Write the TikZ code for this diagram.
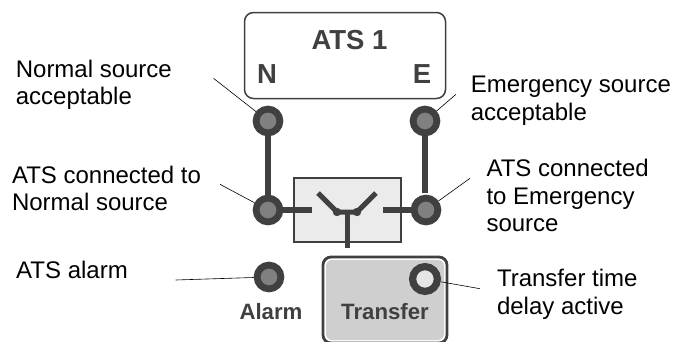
\documentclass[tikz,border=0pt]{standalone}
\usepackage{fontspec}
\setmainfont{Liberation Sans}
\usetikzlibrary{calc}
\colorlet{DarkGrey}{black!75}
\colorlet{LampGrey}{black!50}
\colorlet{SwitchFill}{black!8}
\colorlet{TransferFill}{black!19}
\newcommand{\LampSize}{23.8pt}
\newcommand{\LeadTo}[2]{%
  % #1 free end, #2 lamp name
  \draw[leader] (#1) -- (#2);
}
\begin{document}
\begin{tikzpicture}[
  x=1pt,y=-1pt,
  lamp/.style={circle,draw=DarkGrey,line width=6.8pt,fill=LampGrey,minimum size=\LampSize,inner sep=0pt},
  leader/.style={black,line width=0.6pt},
  bar/.style={DarkGrey,line width=6.3pt},
  blade/.style={DarkGrey,line width=5pt},
  caption/.style={font=\fontsize{24}{27.7}\selectfont,align=left,text=black,anchor=west},
  heading/.style={font=\fontsize{27.5}{32}\selectfont\bfseries,text=DarkGrey},
  tag/.style={font=\fontsize{22.2}{26}\selectfont\bfseries,text=DarkGrey}
]
\useasboundingbox (0,0) rectangle (673,341);

% Boxes
\node[draw=DarkGrey,line width=1.5pt,rounded corners=9pt,minimum width=201pt,minimum height=86pt,inner sep=0pt] (atsbox) at (345,55.5) {};
\node[draw=DarkGrey,line width=2pt,fill=SwitchFill,minimum width=107pt,minimum height=64pt,inner sep=0pt] (switchbox) at (347,209.5) {};
\node[draw=DarkGrey,line width=2.8pt,fill=white,rounded corners=8pt,minimum width=124pt,minimum height=86pt,inner sep=0pt] (transferbox) at (385,300) {};
\node[fill=TransferFill,rounded corners=6pt,minimum width=118pt,minimum height=80pt,inner sep=0pt] (transferfill) at (385,300) {};

% Lamps
\node[lamp] (normalok) at (268,121) {};
\node[lamp] (emergok) at (425,121) {};
\node[lamp] (normalon) at (268,210) {};
\node[lamp] (emergon) at (426,210) {};
\node[lamp] (alarm) at (269,277) {};
\node[lamp,fill=black!10,line width=7.2pt,minimum size=24.8pt] (delay) at (425,279) {};

% Switch
\coordinate (stubL) at (312,210);
\coordinate (stubR) at (383,210);
\coordinate (stubE) at (425,193);
\coordinate (bladeL) at (318,193);
\coordinate (bladeR) at (376,193);
\coordinate (pivotL) at (337,212);
\coordinate (pivotR) at (357,212);
\coordinate (pivotM) at (347,212);
\coordinate (stem) at (347,248);
\draw[bar] (normalok) -- (normalon);
\draw[bar] (emergok) -- (stubE);
\draw[bar] (normalon) -- (stubL);
\draw[bar] (emergon) -- (stubR);
\draw[blade] (bladeL) -- (pivotL) -- (pivotR) -- (bladeR);
\draw[blade] (pivotM) -- (stem);
\fill[DarkGrey] (pivotL) circle (4.2pt) (pivotR) circle (4.2pt);

% Box labels
\node[heading] (atstitle) at (349.5,40) {ATS 1};
\node[heading] (ntag) at (267,74.5) {N};
\node[heading] (etag) at (422,74.5) {E};
\node[tag] (alarmtag) at (271,311.5) {Alarm};
\node[tag] (transfertag) at (385,311.5) {Transfer};

% Captions
\node[caption] (c1) at (12.3,84.7) {Normal source\\acceptable};
\node[caption] (c2) at (467.3,100.5) {Emergency source\\acceptable};
\node[caption] (c3) at (8.5,188.4) {ATS connected to\\Normal source};
\node[caption] (c4) at (483,195.7) {ATS connected\\to Emergency\\source};
\node[caption] (c5) at (12.7,270.4) {ATS alarm};
\node[caption] (c6) at (493.5,294.4) {Transfer time\\delay active};

% Leaders
\coordinate (l1) at (213.5,78.3);
\coordinate (l2) at (456,94.3);
\coordinate (l3) at (220,184.3);
\coordinate (l4) at (470,178.3);
\coordinate (l5) at (175.7,280);
\coordinate (l6) at (480,288.7);
\LeadTo{l1}{normalok}
\LeadTo{l2}{emergok}
\LeadTo{l3}{normalon}
\LeadTo{l4}{emergon}
\LeadTo{l5}{alarm}
\LeadTo{l6}{delay}
\end{tikzpicture}
\end{document}
